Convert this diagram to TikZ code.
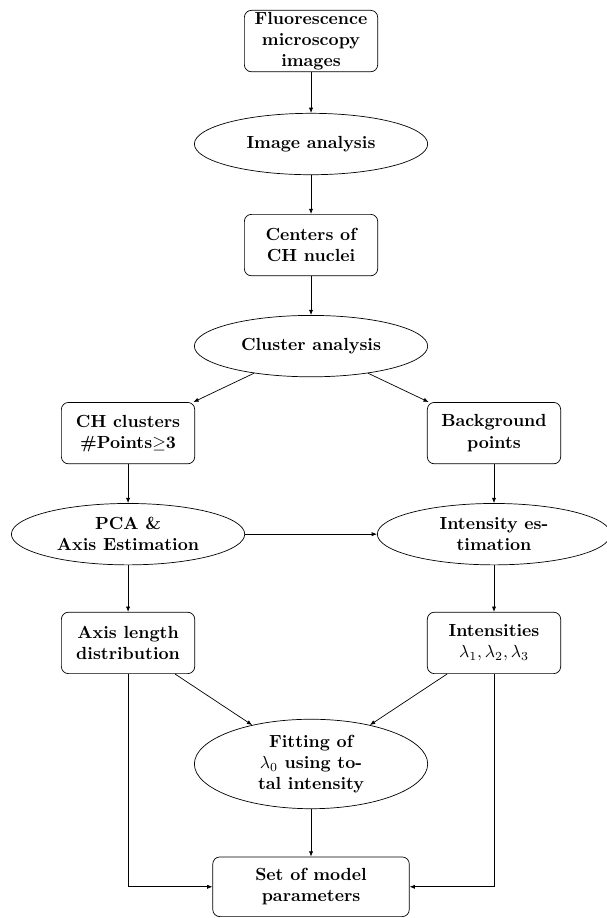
\documentclass[tikz,border=0pt]{standalone}
\usepackage{tikz}
\usetikzlibrary{shapes.geometric,arrows.meta,positioning}
\usepackage{amsmath}

\tikzset{
  stepbox/.style={draw,rectangle,rounded corners,minimum width=76pt,
    minimum height=35pt,inner sep=1pt,align=center,font=\bfseries},
  process/.style={draw,ellipse,minimum width=133pt,minimum height=35pt,
    inner sep=0pt,align=center,font=\bfseries},
  flow/.style={draw,-{Latex[length=3pt,width=2.4pt]}}
}

\begin{document}
\begin{tikzpicture}[node distance=57.6pt and 104.3pt,on grid]
\useasboundingbox (-177.3pt,23.4pt) rectangle (168.7pt,-499.9pt);
% main column
\node[stepbox] (images) {Fluorescence\\microscopy\\images};
\node[process,below=58.7pt of images] (imgana) {Image analysis};
\node[stepbox,below=of imgana] (centers) {Centers of\\CH nuclei};
\node[process,below=of centers] (cluster) {Cluster analysis};
% two branches
\node[stepbox,below left=49.6pt and 104.3pt of cluster] (chclust)
  {CH clusters\\\#Points$\geq$3};
\node[stepbox,below right=49.6pt and 104.3pt of cluster] (backgr)
  {Background\\points};
\node[process,below=of chclust] (pca) {PCA \&\\Axis Estimation};
\node[process,below=of backgr] (intest) {Intensity es-\\timation};
\node[stepbox,below=62pt of pca] (axislen) {Axis length\\distribution};
\node[stepbox,below=62pt of intest] (intens)
  {Intensities\\$\lambda_1,\lambda_2,\lambda_3$};
% fitting and result
\node[process,minimum height=51pt,below right=69pt and 104.3pt of axislen] (fitting)
  {Fitting of\\$\lambda_0$ using to-\\tal intensity};
\node[stepbox,minimum width=112pt,minimum height=34pt,below=70pt of fitting] (params)
  {Set of model\\parameters};

\draw[flow] (images) -- (imgana);
\draw[flow] (imgana) -- (centers);
\draw[flow] (centers) -- (cluster);
\draw[flow] (cluster) -- (chclust);
\draw[flow] (cluster) -- (backgr);
\draw[flow] (chclust) -- (pca);
\draw[flow] (backgr) -- (intest);
\draw[flow] (pca) -- (intest);
\draw[flow] (pca) -- (axislen);
\draw[flow] (intest) -- (intens);
\draw[flow] (axislen) -- (fitting);
\draw[flow] (intens) -- (fitting);
\draw[flow] (fitting) -- (params);
\draw[flow] (axislen) |- (params);
\draw[flow] (intens) |- (params);
\end{tikzpicture}
\end{document}
